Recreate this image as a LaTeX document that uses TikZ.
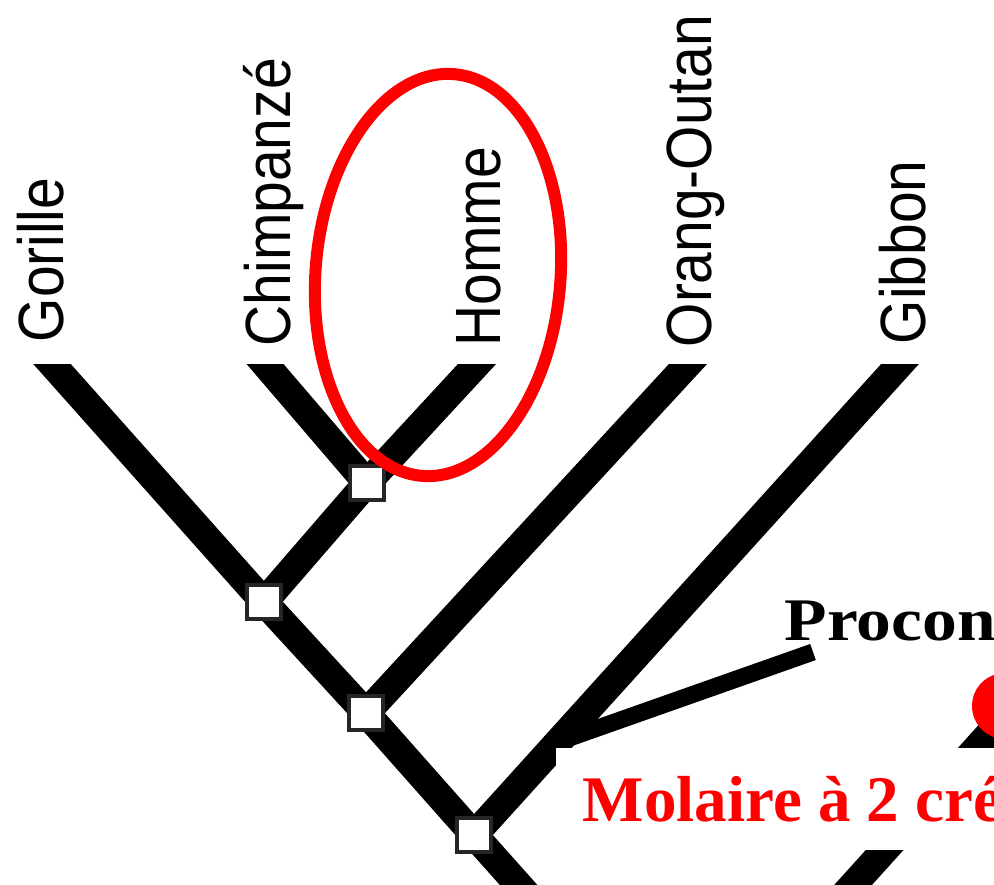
\documentclass[tikz,border=0pt]{standalone}
\usepackage{fontspec}
\setmainfont{Liberation Serif}
\newfontfamily\specfont{Liberation Sans}
\usepackage{tikz}
\usetikzlibrary{backgrounds}

\begin{document}
\begin{tikzpicture}[x=0.01cm, y=-0.01cm, line join=miter,
  branch/.style={line width=0.28cm, black},
  sidebranch/.style={line width=0.17cm, black},
  junction/.style={draw=black!85, fill=white, line width=0.035cm, minimum size=0.34cm, inner sep=0pt},
  specie/.style={rotate=90, anchor=base west, inner sep=0pt, font=\specfont\fontsize{18.2}{18.2}\selectfont},
  fossile/.style={anchor=base west, inner sep=0pt, font=\bfseries\fontsize{17.2}{17.2}\selectfont},
  caractere/.style={anchor=west, fill=white, text=red, inner xsep=0.27cm, inner ysep=0pt, minimum height=1.02cm, font=\bfseries\fontsize{18.5}{18.5}\selectfont},
  ring/.style={draw=red, line width=0.12cm}]

\useasboundingbox (0,0) rectangle (994,885);
\clip (0,0) rectangle (994,885);

% Nodi
\node[junction] (hc) at (367,483) {};
\node[junction] (ghc) at (264,602) {};
\node[junction] (hom) at (366,713) {};
\node[junction] (hyl) at (474,835) {};

% Estremita dei rami
\coordinate (gorilletip) at (52,364);
\coordinate (chimptip) at (265,364);
\coordinate (hommetip) at (477,364);
\coordinate (orangtip) at (688,364);
\coordinate (gibbontip) at (900,364);
\coordinate (root) at (532,900);
\coordinate (procbase) at (558,742);
\coordinate (proctip) at (813,652);
\coordinate (farup) at (1020,700);
\coordinate (fardown) at (835,905);

% Rami
\begin{pgfonlayer}{background}
  \clip (0,364) rectangle (994,885);
  \draw[branch, shorten >=-0.4cm] (root) -- (hyl.center) -- (hom.center) -- (ghc.center) -- (gorilletip);
  \draw[branch, shorten >=-0.4cm] (ghc.center) -- (hc.center) -- (hommetip);
  \draw[branch, shorten >=-0.4cm] (hc.center) -- (chimptip);
  \draw[branch, shorten >=-0.4cm] (hom.center) -- (orangtip);
  \draw[branch, shorten >=-0.4cm] (hyl.center) -- (gibbontip);
  \draw[sidebranch] (procbase) -- (proctip);
  \draw[branch] (farup) -- (fardown);
\end{pgfonlayer}

% Etichette
\node[specie] (gorille) at (64,343) {\scalebox{0.89}[1]{Gorille}};
\node[specie] (chimpanze) at (290,347) {\scalebox{0.89}[1]{Chimpanzé}};
\node[specie] (homme) at (500,347) {\scalebox{0.89}[1]{Homme}};
\node[specie] (orang) at (711,348) {\scalebox{0.89}[1]{Orang-Outan}};
\node[specie] (gibbon) at (925,345) {\scalebox{0.89}[1]{Gibbon}};

% Cerchio attorno a Homme
\draw[ring, rotate around={-4.5:(438,275)}] (438,275) ellipse [x radius=122.5, y radius=201.5];

% Fossile e carattere
\node[fossile] (proconsul) at (784,640) {\scalebox{1.15}[1]{Procon}};
\node[caractere] (molaire) at (555,799) {Molaire à 2 cré};
\fill[red] (1005,706) circle [radius=33];

\end{tikzpicture}
\end{document}
